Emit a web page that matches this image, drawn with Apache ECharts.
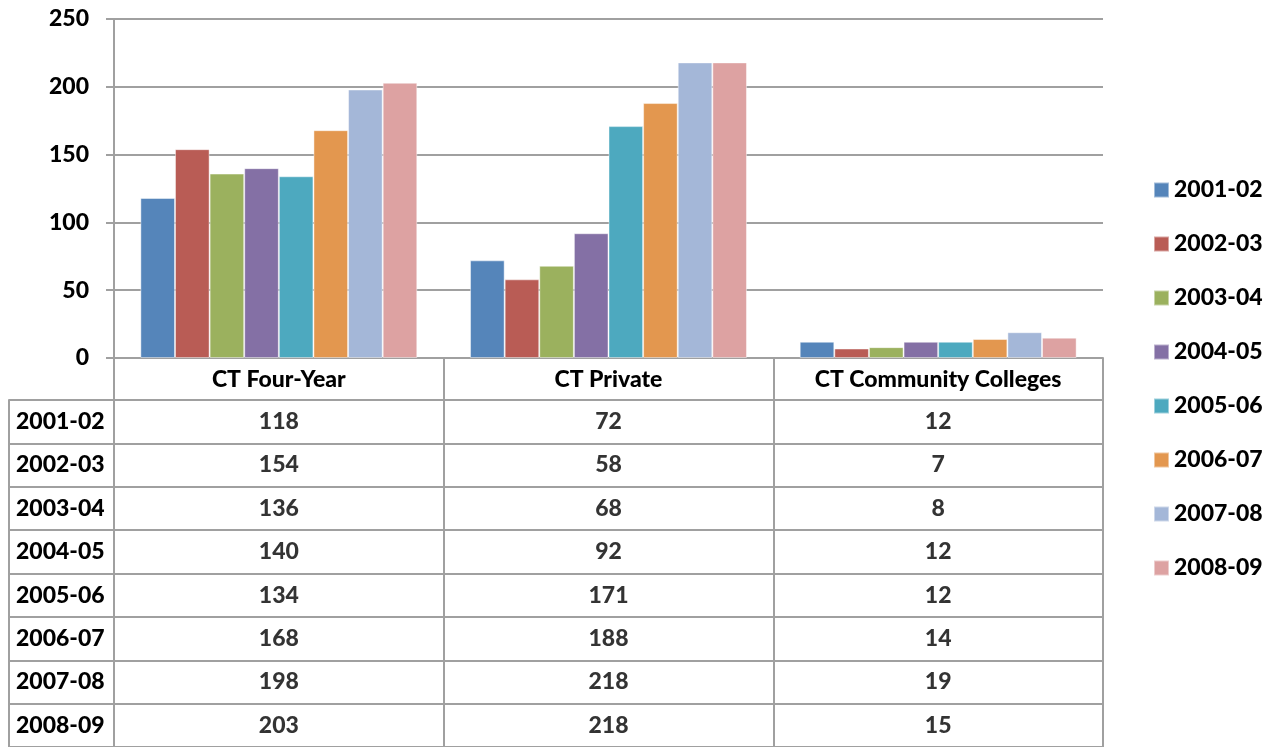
<!DOCTYPE html>
<html>
<head>
<meta charset="utf-8">
<script src="https://cdn.jsdelivr.net/npm/echarts@6/dist/echarts.min.js"></script>
<style>
  html, body { margin: 0; padding: 0; background: #fff; }
  #main { width: 1275px; height: 747px; }
</style>
</head>
<body>
<div id="main"></div>
<script>
// chart data
var institutions = ['CT Four-Year', 'CT Private', 'CT Community Colleges'];
var years = ['2001-02', '2002-03', '2003-04', '2004-05', '2005-06', '2006-07', '2007-08', '2008-09'];
var fourYear = [118, 154, 136, 140, 134, 168, 198, 203];
var privateInst = [72, 58, 68, 92, 171, 188, 218, 218];
var community = [12, 7, 8, 12, 12, 14, 19, 15];
var yTicks = [0, 50, 100, 150, 200, 250];

var colors = ['#5585ba', '#b95c55', '#9bb15e', '#8470a5', '#4da9bf', '#e3974f', '#a4b7d8', '#dda2a2'];
var lineColor = '#a0a0a0';
var fontName = 'Lato';
var fontWeight = 900;

var chart = echarts.init(document.getElementById('main'));

var series = [];
years.forEach(function (y, i) {
  series.push({
    name: y,
    type: 'bar',
    xAxisIndex: 0,
    yAxisIndex: 0,
    barGap: '0%',
    barCategoryGap: '16%',
    itemStyle: { color: colors[i], borderColor: 'rgba(255,255,255,0.45)', borderWidth: 1 },
    data: [fourYear[i], privateInst[i], community[i]]
  });
});

// data table cells
var cells = [];
years.forEach(function (y, i) {
  cells.push([0, i, fourYear[i]]);
  cells.push([1, i, privateInst[i]]);
  cells.push([2, i, community[i]]);
});
series.push({
  type: 'scatter',
  xAxisIndex: 1,
  yAxisIndex: 1,
  symbolSize: 1,
  itemStyle: { color: '#fff' },
  silent: true,
  label: {
    show: true,
    position: 'inside',
    formatter: function (p) { return p.value[2]; },
    color: '#000',
    textBorderWidth: 0,
    fontFamily: fontName,
    fontWeight: fontWeight,
    fontSize: 23
  },
  data: cells
});

var option = {
  animation: false,
  backgroundColor: '#fff',
  color: colors,
  textStyle: { fontFamily: fontName },
  legend: {
    data: years,
    orient: 'vertical',
    left: 1153,
    top: 178,
    padding: 0,
    icon: 'rect',
    itemWidth: 15,
    itemHeight: 15,
    itemGap: 30,
    textStyle: { fontFamily: fontName, fontWeight: fontWeight, fontSize: 23, lineHeight: 24, color: '#000' }
  },
  grid: [
    { left: 114, top: 19, width: 989, height: 339 },
    { left: 114, top: 400, width: 989, height: 352 }
  ],
  xAxis: [
    {
      type: 'category',
      gridIndex: 0,
      data: institutions,
      axisLine: { show: true, lineStyle: { color: lineColor, width: 2 } },
      axisTick: { show: true, length: 42, lineStyle: { color: lineColor, width: 2 } },
      axisLabel: { margin: 10, color: '#000', fontFamily: fontName, fontWeight: fontWeight, fontSize: 23 }
    },
    {
      type: 'category',
      gridIndex: 1,
      position: 'top',
      data: institutions,
      axisLine: { show: true, lineStyle: { color: lineColor, width: 2 } },
      axisTick: { show: false },
      axisLabel: { show: false },
      splitLine: { show: true, lineStyle: { color: lineColor, width: 2 } }
    }
  ],
  yAxis: [
    {
      type: 'value',
      gridIndex: 0,
      min: yTicks[0],
      max: yTicks[yTicks.length - 1],
      interval: 50,
      axisLine: { show: true, lineStyle: { color: lineColor, width: 2 } },
      axisTick: { show: true, length: 8, lineStyle: { color: lineColor, width: 2 } },
      axisLabel: { margin: 25, color: '#000', fontFamily: fontName, fontWeight: fontWeight, fontSize: 23 },
      splitLine: { show: true, lineStyle: { color: lineColor, width: 2 } }
    },
    {
      type: 'category',
      gridIndex: 1,
      data: years,
      inverse: true,
      axisLine: { show: true, lineStyle: { color: lineColor, width: 2 } },
      axisTick: { show: true, length: 105, lineStyle: { color: lineColor, width: 2 } },
      axisLabel: { margin: 98, align: 'left', color: '#000', fontFamily: fontName, fontWeight: fontWeight, fontSize: 23 },
      splitLine: { show: true, lineStyle: { color: lineColor, width: 2 } }
    },
    {
      type: 'value',
      gridIndex: 1,
      position: 'left',
      offset: 105,
      axisLine: { show: true, lineStyle: { color: lineColor, width: 2 } },
      axisTick: { show: false },
      axisLabel: { show: false },
      splitLine: { show: false }
    },
    {
      type: 'value',
      gridIndex: 1,
      position: 'right',
      axisLine: { show: true, lineStyle: { color: lineColor, width: 2 } },
      axisTick: { show: false },
      axisLabel: { show: false },
      splitLine: { show: false }
    }
  ],
  series: series
};

chart.setOption(option);
</script>
</body>
</html>
